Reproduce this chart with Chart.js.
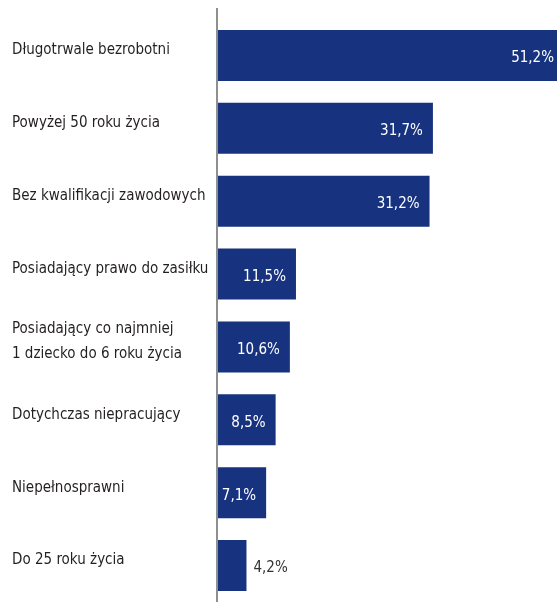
<!DOCTYPE html>
<html lang="pl">
<head>
<meta charset="utf-8">
<title>Bezrobotni w szczególnej sytuacji</title>
<script src="https://cdn.jsdelivr.net/npm/chart.js@4"></script>
<style>
  html, body { margin: 0; padding: 0; background: #fff; }
  #wrap { width: 557px; height: 602px; position: relative; }
</style>
</head>
<body>
<div id="wrap"><canvas id="chart"></canvas></div>
<script>
const categories = [
  'Długotrwale bezrobotni',
  'Powyżej 50 roku życia',
  'Bez kwalifikacji zawodowych',
  'Posiadający prawo do zasiłku',
  ['Posiadający co najmniej', '1 dziecko do 6 roku życia'],
  'Dotychczas niepracujący',
  'Niepełnosprawni',
  'Do 25 roku życia'
];
const shares = [51.2, 31.7, 31.2, 11.5, 10.6, 8.5, 7.1, 4.2];
const valueLabels = ['51,2%', '31,7%', '31,2%', '11,5%', '10,6%', '8,5%', '7,1%', '4,2%'];

const FONT = '"DejaVu Sans Condensed", "Liberation Sans Narrow", "Liberation Sans", sans-serif';
const BAR = '#17337f';

// vertical axis line, starts a little above the first bar
const axisLine = {
  id: 'axisLine',
  afterDatasetsDraw(chart) {
    const ctx = chart.ctx;
    const x = chart.chartArea.left - 1;
    ctx.save();
    ctx.strokeStyle = '#8f8f8f';
    ctx.lineWidth = 2;
    ctx.beginPath();
    ctx.moveTo(x, 8);
    ctx.lineTo(x, chart.height);
    ctx.stroke();
    ctx.restore();
  }
};

// percent labels at bar ends
const barValues = {
  id: 'barValues',
  afterDatasetsDraw(chart) {
    const ctx = chart.ctx;
    const meta = chart.getDatasetMeta(0);
    ctx.save();
    ctx.font = '15px ' + FONT;
    ctx.textBaseline = 'middle';
    meta.data.forEach((bar, i) => {
      const w = bar.x - bar.base;
      const y = bar.y + 3;
      if (w < 40) {
        ctx.fillStyle = '#333';
        ctx.textAlign = 'left';
        ctx.fillText(valueLabels[i], bar.x + 7, y);
      } else {
        ctx.fillStyle = '#fff';
        ctx.textAlign = 'right';
        ctx.fillText(valueLabels[i], Math.min(bar.x - 10, chart.chartArea.right - 3), y);
      }
    });
    ctx.restore();
  }
};

new Chart(document.getElementById('chart'), {
  type: 'bar',
  data: {
    labels: categories,
    datasets: [{
      data: shares,
      backgroundColor: BAR,
      borderWidth: 0,
      categoryPercentage: 1,
      barPercentage: 0.7
    }]
  },
  options: {
    indexAxis: 'y',
    responsive: true,
    maintainAspectRatio: false,
    animation: false,
    layout: { padding: { left: 12, top: 19, right: 0, bottom: 0 } },
    plugins: {
      legend: { display: false },
      tooltip: { enabled: false }
    },
    scales: {
      x: {
        display: false,
        min: 0,
        max: 50
      },
      y: {
        grid: { display: false, drawTicks: false },
        border: { display: false },
        afterFit(scale) {
          scale.width = 206;
          scale.paddingTop = 0;
          scale.paddingBottom = 0;
        },
        ticks: {
          crossAlign: 'far',
          color: '#231f20',
          padding: 0,
          labelOffset: -5,
          font: { family: FONT, size: 15, lineHeight: 1.65 }
        }
      }
    }
  },
  plugins: [axisLine, barValues]
});
</script>
</body>
</html>
